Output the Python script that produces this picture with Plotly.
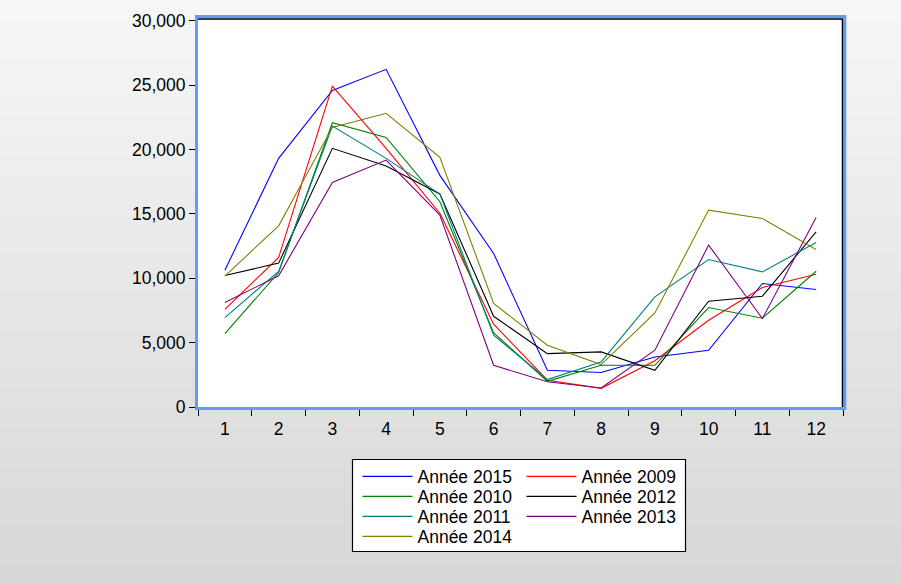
import plotly.graph_objects as go

months = list(range(1, 13))
tick_text = [str(m) for m in months]

y2015 = [10630, 19320, 24600, 26240, 18000, 11930, 2850, 2680, 3890, 4410, 9600, 9130]
y2009 = [7580, 11620, 24940, 20100, 15060, 6430, 2080, 1450, 3600, 6740, 9290, 10320]
y2010 = [5710, 10450, 22090, 20950, 15950, 5760, 2000, 3240, 3240, 7730, 6900, 10550]
y2012 = [10220, 11180, 20100, 18720, 16550, 7050, 4150, 4280, 2850, 8220, 8610, 13610]
y2011 = [6950, 10540, 21830, 19320, 16540, 5580, 2130, 3500, 8560, 11460, 10500, 12790]
y2013 = [8120, 10200, 17450, 19190, 14910, 3240, 1960, 1480, 4410, 12580, 6870, 14730]
y2014 = [10170, 14080, 21730, 22820, 19400, 8040, 4800, 3300, 7310, 15300, 14650, 12240]

series = [
    ("Année 2015", y2015, "#0000ff"),
    ("Année 2009", y2009, "#ff0000"),
    ("Année 2010", y2010, "#008000"),
    ("Année 2012", y2012, "#000000"),
    ("Année 2011", y2011, "#008080"),
    ("Année 2013", y2013, "#800080"),
    ("Année 2014", y2014, "#808000"),
]

W, H = 901, 584
L, R, T, B = 198, 58, 19, 177
PW, PH = W - L - R, H - T - B

def px(x):
    return (x - L) / PW

def py(y):
    return (H - B - y) / PH

font = dict(family="Liberation Sans, Arial, sans-serif", size=17.5, color="black")

fig = go.Figure()
legend_defs = {}
ITEMW = 50
col_text_x = [417.5, 581.5]
row_y = [476.5, 496.5, 516.5, 536.5]
for i, (name, ys, col) in enumerate(series):
    lg = "legend" if i == 0 else f"legend{i + 1}"
    fig.add_trace(go.Scatter(x=months, y=ys, mode="lines", name=name,
                             line=dict(color=col, width=1.1), legend=lg))
    r, c = divmod(i, 2)
    legend_defs[lg] = dict(x=px(col_text_x[c] - (ITEMW + 10)), y=py(row_y[r]),
                           xanchor="left", yanchor="middle",
                           bgcolor="rgba(0,0,0,0)", borderwidth=0, font=font,
                           itemwidth=ITEMW)

shapes = []
n = 30
for i in range(n):
    cval = round(246 - (246 - 216) * i / (n - 1))
    shapes.append(dict(type="rect", xref="paper", yref="paper",
                       x0=px(0), x1=px(W), y0=py(i * H / n), y1=py((i + 1) * H / n + 1),
                       fillcolor=f"rgb({cval},{cval},{cval})", line=dict(width=0), layer="below"))
shapes.append(dict(type="rect", xref="paper", yref="paper", x0=0, x1=1, y0=0, y1=1,
                   fillcolor="white", line=dict(width=0), layer="below"))
shapes.append(dict(type="rect", xref="paper", yref="paper",
                   x0=px(352.5), x1=px(685.5), y0=py(551.5), y1=py(459.5),
                   fillcolor="white", line=dict(color="black", width=1.2), layer="below"))
shapes.append(dict(type="rect", xref="paper", yref="paper",
                   x0=px(196.5), x1=px(844.8), y0=py(408.5), y1=py(16.5),
                   line=dict(color="#6699ff", width=3), layer="above"))
shapes.append(dict(type="line", xref="paper", yref="paper",
                   x0=px(198), x1=px(843), y0=py(19), y1=py(19),
                   line=dict(color="black", width=1.5), layer="above"))
shapes.append(dict(type="line", xref="paper", yref="paper",
                   x0=px(842.5), x1=px(842.5), y0=py(407), y1=py(19),
                   line=dict(color="black", width=1.5), layer="above"))

fig.update_layout(
    width=W, height=H,
    margin=dict(l=L, r=R, t=T, b=B, pad=0),
    paper_bgcolor="#e8e8e8",
    plot_bgcolor="white",
    font=font,
    shapes=shapes,
    showlegend=True,
    xaxis=dict(range=[0.5, 12.5], tickmode="array", tickvals=months, ticktext=tick_text,
               ticks="", showgrid=False, zeroline=False, showline=False,
               tickfont=font, fixedrange=True, ticklabelstandoff=9,
               minor=dict(tickmode="linear", tick0=0.5, dtick=1, ticks="outside",
                          ticklen=8, tickcolor="black", tickwidth=1, showgrid=False)),
    yaxis=dict(range=[0, 30150], tickmode="array",
               tickvals=[0, 5000, 10000, 15000, 20000, 25000, 30000],
               ticktext=["0", "5,000", "10,000", "15,000", "20,000", "25,000", "30,000"],
               ticks="outside", ticklen=8, tickcolor="black", tickwidth=1,
               showgrid=False, zeroline=False, showline=False, tickfont=font,
               fixedrange=True),
    **legend_defs,
)

fig.write_html("out.html")
